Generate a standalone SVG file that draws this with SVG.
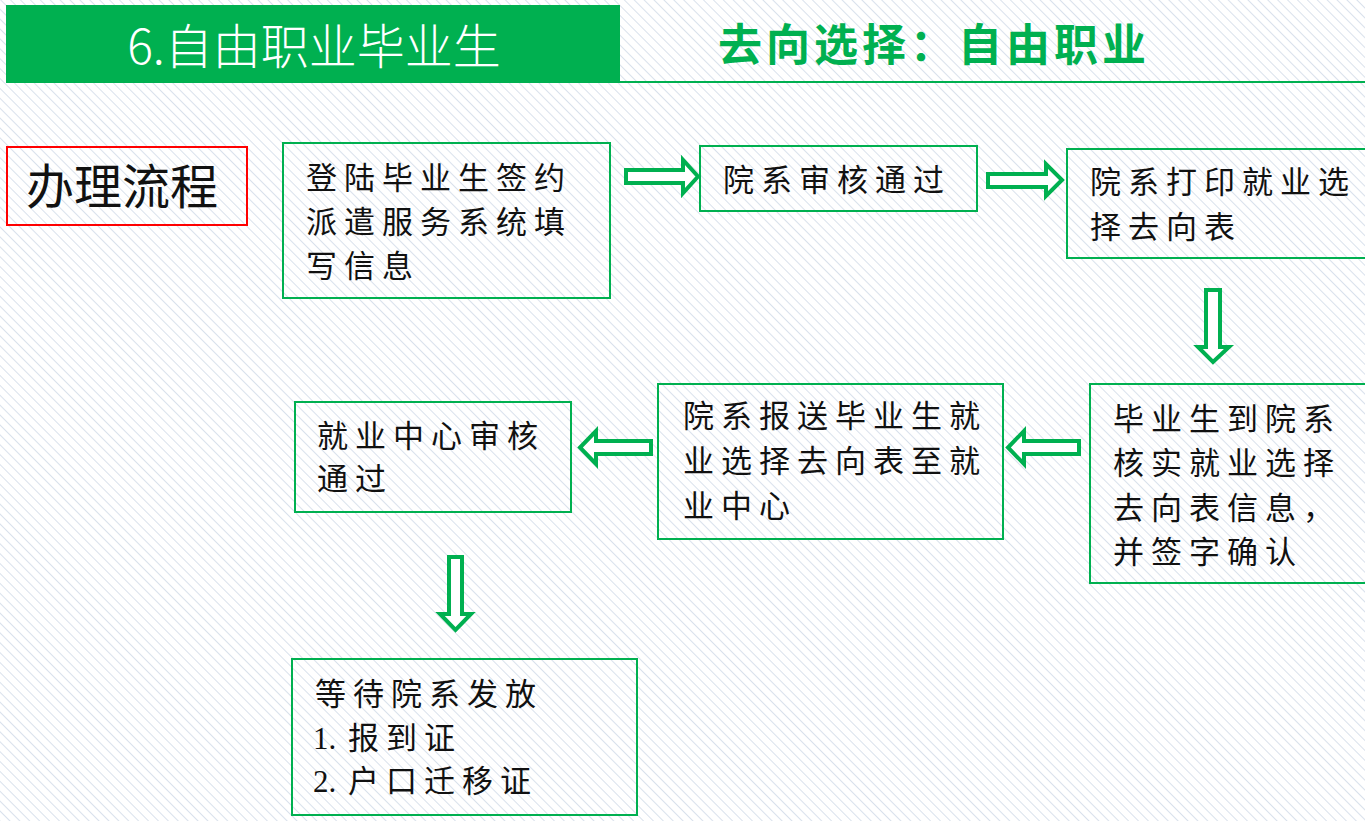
<svg xmlns="http://www.w3.org/2000/svg" width="1365" height="821" viewBox="0 0 1365 821">
<defs>
<pattern id="hatch" patternUnits="userSpaceOnUse" width="7" height="7" patternTransform="rotate(-45)">
<line x1="0" y1="0" x2="0" y2="7" stroke="#cdd7e6" stroke-width="1.5"/>
</pattern>
</defs>
<style>
.box{fill:none;stroke:#00b050;stroke-width:2}
.red{fill:none;stroke:#ff0000;stroke-width:2}
.arr{fill:#ffffff;stroke:#00b050;stroke-width:4;stroke-linejoin:miter}
.t{font-family:"Noto Sans CJK SC","Liberation Serif",serif;font-size:31px;letter-spacing:7px;fill:#111111}
.n{font-family:"Liberation Serif",serif;letter-spacing:0px}
.title{font-family:"Noto Sans CJK SC","Liberation Sans",sans-serif;font-size:48px;font-weight:300;fill:#ffffff}
.sub{font-family:"Noto Sans CJK SC","Liberation Serif",serif;font-size:44px;font-weight:bold;letter-spacing:4px;fill:#00b050}
.lbl{font-family:"Noto Sans CJK SC","Liberation Sans",sans-serif;font-size:48px;fill:#111111}
</style>
<rect x="0" y="0" width="1365" height="821" fill="#ffffff"/>
<rect x="0" y="0" width="1365" height="821" fill="url(#hatch)"/>

<g id="header">
<rect x="6" y="5" width="614" height="78" fill="#00b050"/>
<line x1="620" y1="82" x2="1365" y2="82" stroke="#00b050" stroke-width="2"/>
<text class="title" x="314" y="64" text-anchor="middle">6.自由职业毕业生</text>
<text class="sub" x="718" y="61">去向选择：自由职业</text>
</g>

<g id="label">
<rect class="red" x="7" y="147" width="240" height="78"/>
<text class="lbl" x="26" y="204">办理流程</text>
</g>

<g id="node1">
<rect class="box" x="283" y="143" width="327" height="155"/>
<text class="t"><tspan x="306" y="189">登陆毕业生签约</tspan><tspan x="306" y="233">派遣服务系统填</tspan><tspan x="306" y="277">写信息</tspan></text>
</g>

<g id="node2">
<rect class="box" x="700" y="146" width="277" height="65"/>
<text class="t" x="723" y="191">院系审核通过</text>
</g>

<g id="node3">
<rect class="box" x="1067" y="149" width="310" height="109"/>
<text class="t"><tspan x="1090" y="193">院系打印就业选</tspan><tspan x="1090" y="238">择去向表</tspan></text>
</g>

<g id="node4">
<rect class="box" x="1090" y="384" width="290" height="199"/>
<text class="t"><tspan x="1113" y="430">毕业生到院系</tspan><tspan x="1113" y="474">核实就业选择</tspan><tspan x="1113" y="519">去向表信息，</tspan><tspan x="1113" y="563">并签字确认</tspan></text>
</g>

<g id="node5">
<rect class="box" x="658" y="384" width="345" height="155"/>
<text class="t"><tspan x="683" y="427">院系报送毕业生就</tspan><tspan x="683" y="472">业选择去向表至就</tspan><tspan x="683" y="517">业中心</tspan></text>
</g>

<g id="node6">
<rect class="box" x="295" y="402" width="276" height="110"/>
<text class="t"><tspan x="317" y="447">就业中心审核</tspan><tspan x="317" y="490">通过</tspan></text>
</g>

<g id="node7">
<rect class="box" x="292" y="659" width="345" height="156"/>
<text class="t"><tspan x="315" y="705">等待院系发放</tspan><tspan class="n" x="313" y="749">1.</tspan><tspan x="348" y="749">报到证</tspan><tspan class="n" x="313" y="792">2.</tspan><tspan x="348" y="792">户口迁移证</tspan></text>
</g>

<g id="connectors">
<polygon class="arr" points="626,170 683,170 683,160 698,176.5 683,193 683,183 626,183"/>
<polygon class="arr" points="988,174 1046,174 1046,164 1062,180 1046,196 1046,187 988,187"/>
<polygon class="arr" points="1206,290 1220,290 1220,347 1229,347 1213,362 1198,347 1206,347"/>
<polygon class="arr" points="1079,441 1024,441 1024,431 1008,447.5 1024,464 1024,454 1079,454"/>
<polygon class="arr" points="651,441 596,441 596,431 580,447.5 596,464 596,454 651,454"/>
<polygon class="arr" points="449,557 462,557 462,614 471,614 455.5,630 440,614 449,614"/>
</g>
</svg>
